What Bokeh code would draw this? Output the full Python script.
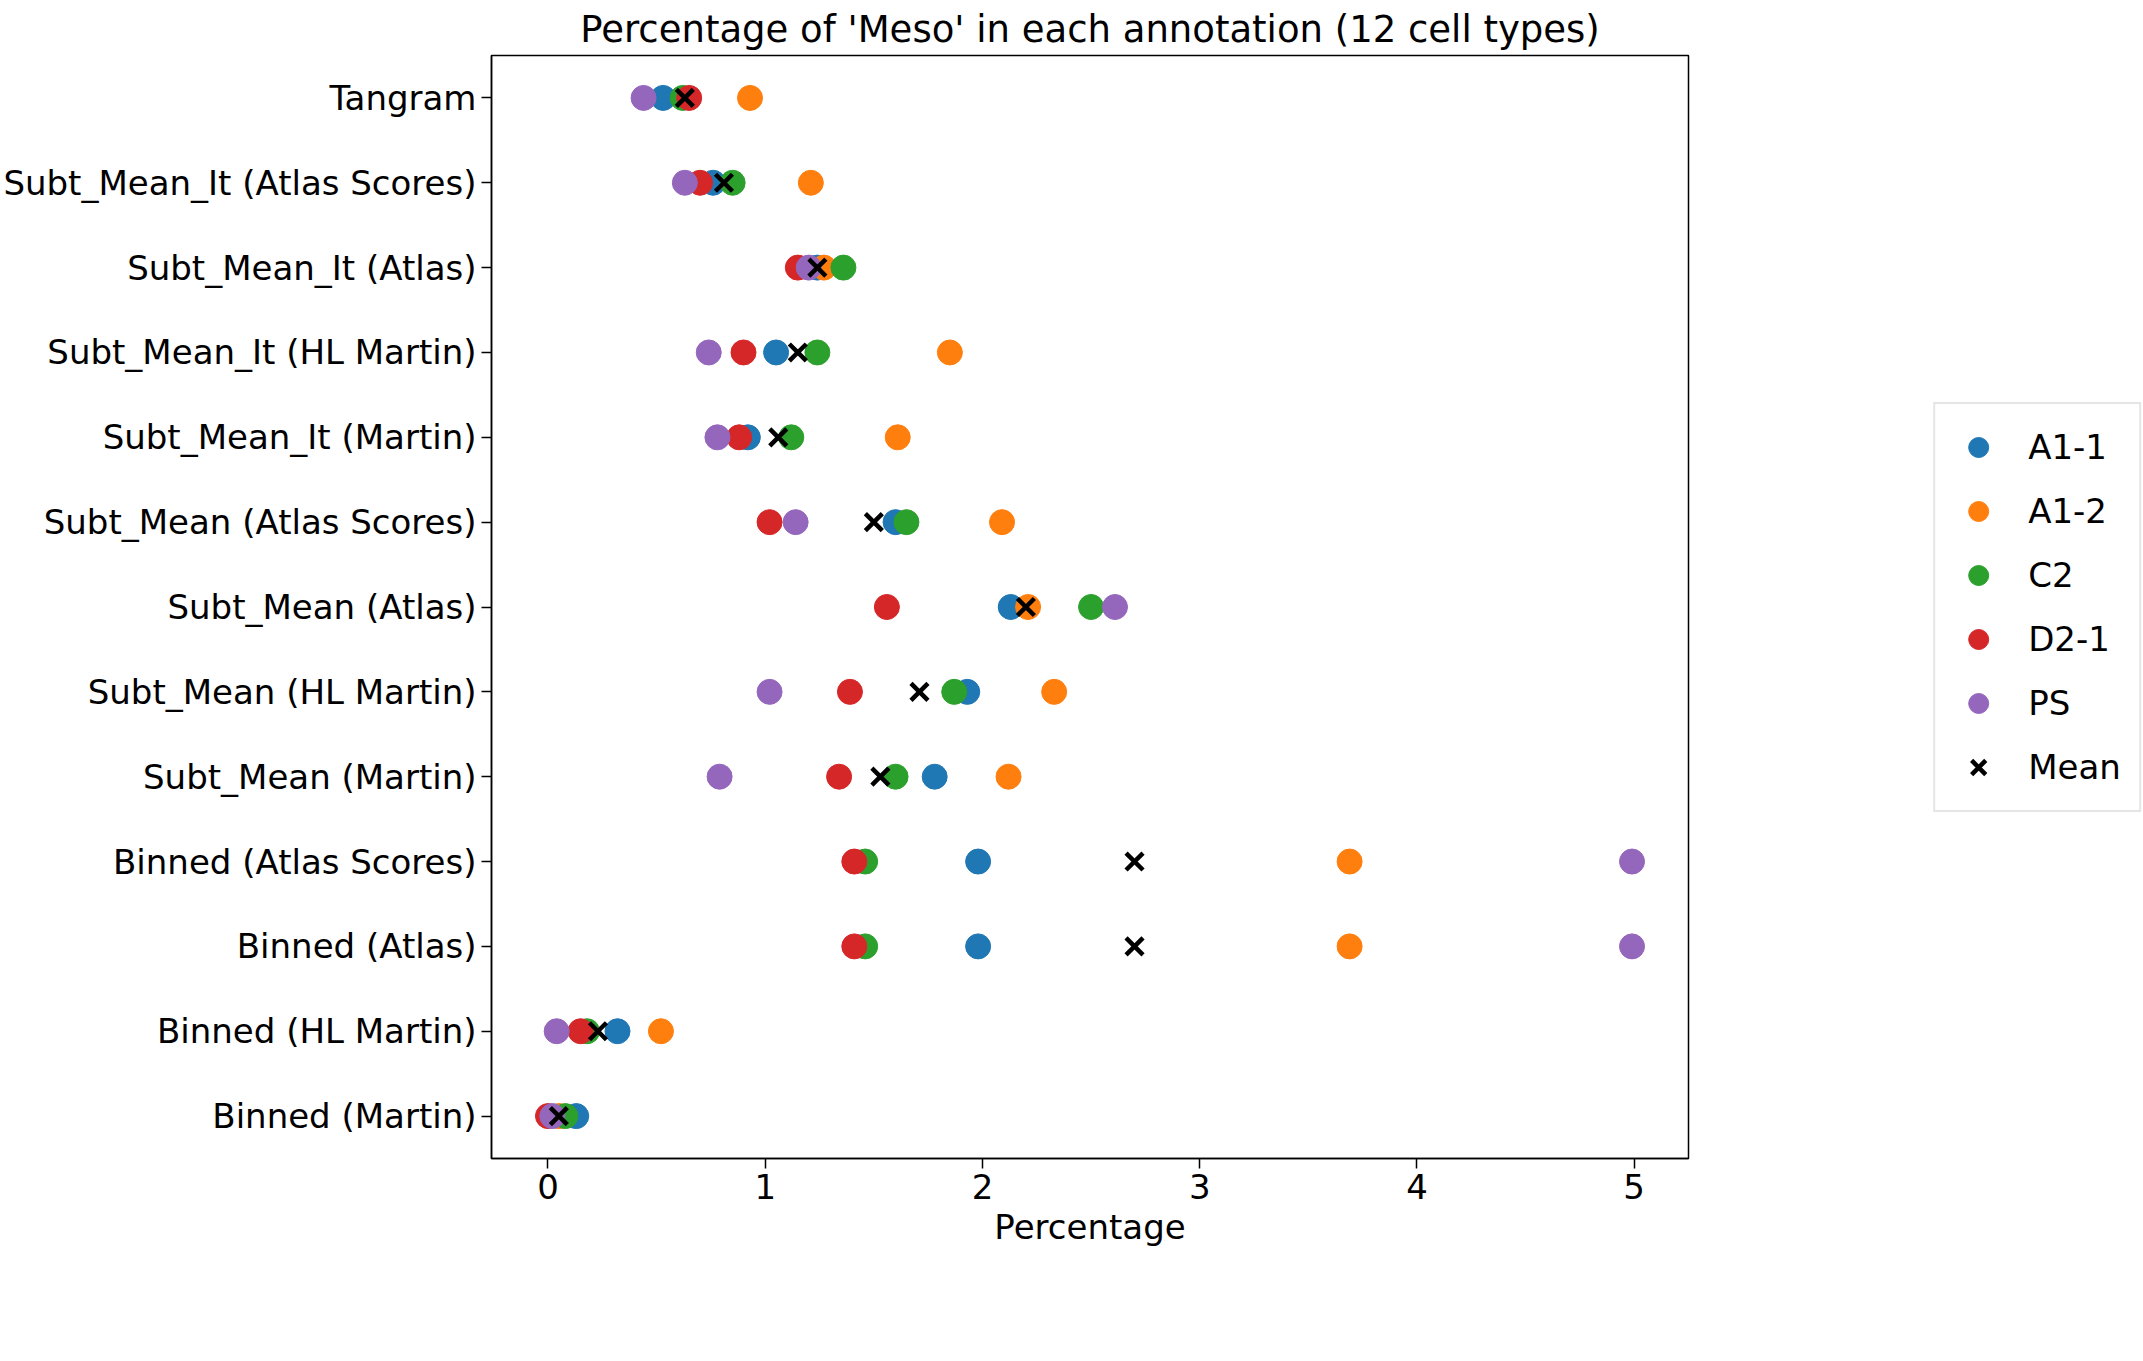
from bokeh.plotting import figure
from bokeh.models import Legend, LegendItem
from bokeh.embed import file_html
from bokeh.resources import INLINE

methods = ["Tangram", "Subt_Mean_It (Atlas Scores)", "Subt_Mean_It (Atlas)",
           "Subt_Mean_It (HL Martin)", "Subt_Mean_It (Martin)", "Subt_Mean (Atlas Scores)",
           "Subt_Mean (Atlas)", "Subt_Mean (HL Martin)", "Subt_Mean (Martin)",
           "Binned (Atlas Scores)", "Binned (Atlas)", "Binned (HL Martin)", "Binned (Martin)"]

a1_1 = [0.53, 0.76, 1.24, 1.05, 0.92, 1.60, 2.13, 1.93, 1.78, 1.98, 1.98, 0.32, 0.13]
a1_2 = [0.93, 1.21, 1.27, 1.85, 1.61, 2.09, 2.21, 2.33, 2.12, 3.69, 3.69, 0.52, 0.05]
c2 = [0.62, 0.85, 1.36, 1.24, 1.12, 1.65, 2.50, 1.87, 1.60, 1.46, 1.46, 0.18, 0.08]
d2_1 = [0.65, 0.70, 1.15, 0.90, 0.88, 1.02, 1.56, 1.39, 1.34, 1.41, 1.41, 0.15, 0.00]
ps = [0.44, 0.63, 1.20, 0.74, 0.78, 1.14, 2.61, 1.02, 0.79, 4.99, 4.99, 0.04, 0.02]
mean = [0.63, 0.81, 1.24, 1.15, 1.06, 1.50, 2.20, 1.71, 1.53, 2.70, 2.70, 0.23, 0.05]

series = [("A1-1", a1_1, "#1f77b4"), ("A1-2", a1_2, "#ff7f0e"), ("C2", c2, "#2ca02c"),
          ("D2-1", d2_1, "#d62728"), ("PS", ps, "#9467bd")]

p = figure(y_range=list(reversed(methods)), x_range=(-0.26, 5.25),
           frame_width=1197, frame_height=1103, output_backend="svg", toolbar_location=None,
           title="Percentage of 'Meso' in each annotation (12 cell types)",
           x_axis_label="Percentage")
p.min_border_left = 20
p.min_border_top = 45
p.title.text_font = "DejaVu Sans"
p.title.text_font_size = "37px"
p.title.text_font_style = "normal"
p.title.text_color = "black"
p.title.align = "center"
p.grid.visible = False
p.outline_line_color = "black"
p.outline_line_width = 1.5
p.outline_line_alpha = 1
for ax in (p.xaxis, p.yaxis):
    ax.major_label_text_font = "DejaVu Sans"
    ax.major_label_text_font_size = "34px"
    ax.major_label_text_color = "black"
    ax.axis_label_text_font = "DejaVu Sans"
    ax.axis_label_text_font_size = "34px"
    ax.axis_label_text_font_style = "normal"
    ax.axis_label_text_color = "black"
    ax.minor_tick_line_color = None
    ax.major_tick_out = 10
    ax.major_tick_in = 0
    ax.axis_line_width = 1.5
    ax.major_tick_line_width = 1.5
    ax.major_tick_line_color = "black"
    ax.axis_line_color = "black"
p.xaxis.ticker = [0, 1, 2, 3, 4, 5]

items = []
for name, vals, col in series:
    r = p.scatter(vals, methods, size=25, color=col)
    items.append(LegendItem(label=name, renderers=[r]))
r = p.scatter(mean, methods, marker="x", size=24, line_color="black", line_width=4.5)
items.append(LegendItem(label="Mean", renderers=[r]))

legend = Legend(items=items, location="center", label_text_font="DejaVu Sans",
                label_text_font_size="34px", label_text_color="black",
                glyph_width=50, glyph_height=50,
                spacing=14, border_line_color="#cccccc", border_line_width=2,
                padding=18, margin=20, label_standoff=25)
p.add_layout(legend, "right")

open("out.html", "w").write(file_html(p, INLINE))
